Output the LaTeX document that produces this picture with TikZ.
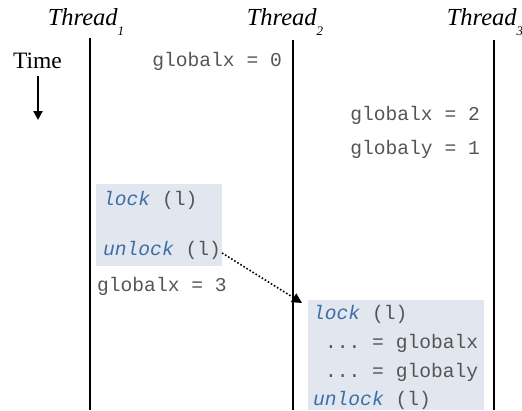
\documentclass[tikz,border=0pt]{standalone}
\usepackage{fontspec}
\setmainfont{Liberation Serif}
\setmonofont{Liberation Mono}
\usetikzlibrary{arrows.meta}
\definecolor{boxbg}{HTML}{E1E6EF}
\definecolor{kw}{HTML}{3D6DA6}
\definecolor{code}{HTML}{555555}
\tikzset{
  threadline/.style={line width=2.8pt, black},
  threadlabel/.style={font=\fontsize{24.5}{26}\selectfont\itshape, anchor=base, inner sep=0pt},
  codetext/.style={font=\fontsize{19.6}{22}\selectfont\ttfamily, text=code, inner sep=0pt},
  syncbox/.style={fill=boxbg, draw=none},
}
\newcommand{\kwd}[1]{\textcolor{kw}{\textit{#1}}}
\newcommand{\thsub}[1]{\raisebox{-0.42em}{\fontsize{13}{13}\selectfont\itshape #1}}
\begin{document}
\begin{tikzpicture}[x=1pt,y=-1pt]
\useasboundingbox (0,0) rectangle (522,410);
% shaded critical sections
\fill[syncbox] (96,184) rectangle (222,266);
\fill[syncbox] (308,300) rectangle (484,410);
% thread lines
\coordinate (t1top) at (90,38);  \coordinate (t1bot) at (90,410);
\coordinate (t2top) at (293,40); \coordinate (t2bot) at (293,410);
\coordinate (t3top) at (494,40); \coordinate (t3bot) at (494,410);
\draw[threadline] (t1top) -- (t1bot);
\draw[threadline] (t2top) -- (t2bot);
\draw[threadline] (t3top) -- (t3bot);
% thread labels
\node[threadlabel] (th1) at (86,25) {Thread\thsub{1}};
\node[threadlabel] (th2) at (285,25) {Thread\thsub{2}};
\node[threadlabel] (th3) at (485,25) {Thread\thsub{3}};
% time
\node[font=\fontsize{23.5}{25}\selectfont, anchor=base, inner sep=0pt] (time) at (37.5,68) {Time};
\coordinate (tstart) at (38,76);
\coordinate (tend) at (38,120);
\draw[line width=2.8pt, -{Triangle[length=9pt,width=9pt]}] (tstart) -- (tend);
% thread 1
\node[codetext, anchor=base east] (gx0) at (282,66) {globalx = 0};
\node[codetext, anchor=base west] (lock1) at (103,205) {\kwd{lock} (l)};
\node[codetext, anchor=base west] (unlock1) at (103,255) {\kwd{unlock} (l)};
\node[codetext, anchor=base west] (gx3) at (97,291) {globalx = 3};
% thread 3
\node[codetext, anchor=base east] (gx2) at (480,120) {globalx = 2};
\node[codetext, anchor=base east] (gy1) at (480,154) {globaly = 1};
% thread 2
\node[codetext, anchor=base west] (lock2) at (313,319) {\kwd{lock} (l)};
\node[codetext, anchor=base west] (rdx) at (325,348) {... = globalx};
\node[codetext, anchor=base west] (rdy) at (325,377) {... = globaly};
\node[codetext, anchor=base west] (unlock2) at (313,405) {\kwd{unlock} (l)};
% sync arrow
\coordinate (arrowend) at (302,303);
\draw[line width=1.6pt, dotted, -{Triangle[length=10pt,width=10pt]}] ([xshift=1pt,yshift=-3pt]unlock1.east) -- (arrowend);
\end{tikzpicture}
\end{document}
